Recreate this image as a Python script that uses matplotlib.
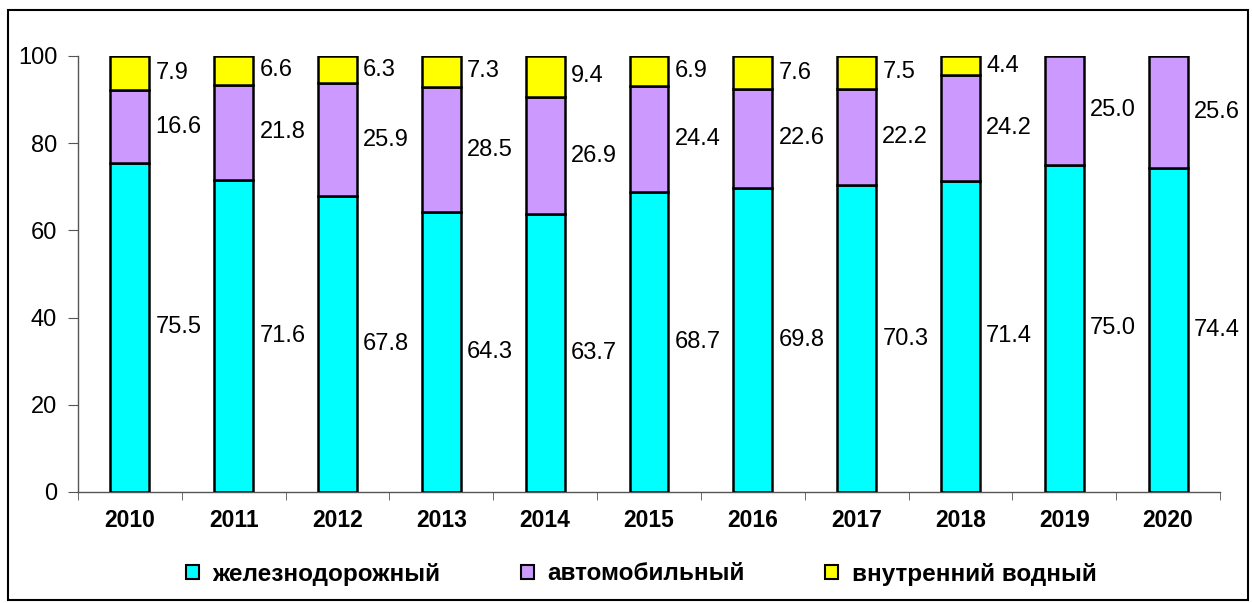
import matplotlib
matplotlib.use("Agg")
import matplotlib.pyplot as plt
from matplotlib.patches import Patch, Rectangle
import numpy as np

plt.rcParams['font.family'] = ['Liberation Sans', 'DejaVu Sans']

years = ['2010', '2011', '2012', '2013', '2014', '2015', '2016', '2017', '2018', '2019', '2020']
rail = [75.5, 71.6, 67.8, 64.3, 63.7, 68.7, 69.8, 70.3, 71.4, 75.0, 74.4]
road = [16.6, 21.8, 25.9, 28.5, 26.9, 24.4, 22.6, 22.2, 24.2, 25.0, 25.6]
water = [7.9, 6.6, 6.3, 7.3, 9.4, 6.9, 7.6, 7.5, 4.4, 0.0, 0.0]
series_names = ['железнодорожный', 'автомобильный', 'внутренний водный']
colors = ['#00FFFF', '#CC99FF', '#FFFF00']

fig = plt.figure(figsize=(12.52, 6.03), dpi=100)
fig.patches.append(Rectangle((8/1252, 3/603), 1240/1252, 590/603, transform=fig.transFigure,
                             fill=False, edgecolor='black', linewidth=1.5))
ax = fig.add_axes([78/1252, 1 - 492/603, 1142/1252, 436/603])

x = np.arange(len(years))
width = 0.375
bottom = np.zeros(len(years))
for vals, col in zip([rail, road, water], colors):
    vals = np.array(vals)
    mask = vals > 0
    ax.bar(x[mask], vals[mask], width, bottom=bottom[mask], color=col,
           edgecolor='black', linewidth=1.8, zorder=3)
    for xi, b, v in zip(x[mask], bottom[mask], vals[mask]):
        ax.text(xi + width / 2 + 0.06, b + v / 2, f'{v:.1f}', ha='left', va='center',
                fontsize=17, color='black')
    bottom = bottom + vals

ax.set_xlim(-0.5, len(years) - 0.5)
ax.set_ylim(0, 100)
ax.set_yticks([0, 20, 40, 60, 80, 100])
ax.tick_params(axis='y', labelsize=17, length=7, color='#555555', pad=8)
ax.set_xticks(x)
ax.set_xticklabels(years, fontsize=16.5, fontweight='bold')
ax.set_xticks(np.arange(-0.5, len(years)), minor=True)
ax.tick_params(axis='x', which='major', length=0, pad=12)
ax.tick_params(axis='x', which='minor', length=6, color='#555555')
for s in ['top', 'right']:
    ax.spines[s].set_visible(False)
for s in ['left', 'bottom']:
    ax.spines[s].set_color('#555555')
    ax.spines[s].set_linewidth(1.0)

handles = [Patch(facecolor=c, edgecolor='black', linewidth=1.5) for c in colors]
fig.legend(handles, series_names, loc='center', bbox_to_anchor=(0.512, 1 - 574/603), ncol=3,
           frameon=False, prop={'weight': 'bold', 'size': 17.5}, handlelength=0.55,
           handleheight=0.55, handletextpad=0.55, columnspacing=3.3)

fig.savefig('out.png', dpi=100)
